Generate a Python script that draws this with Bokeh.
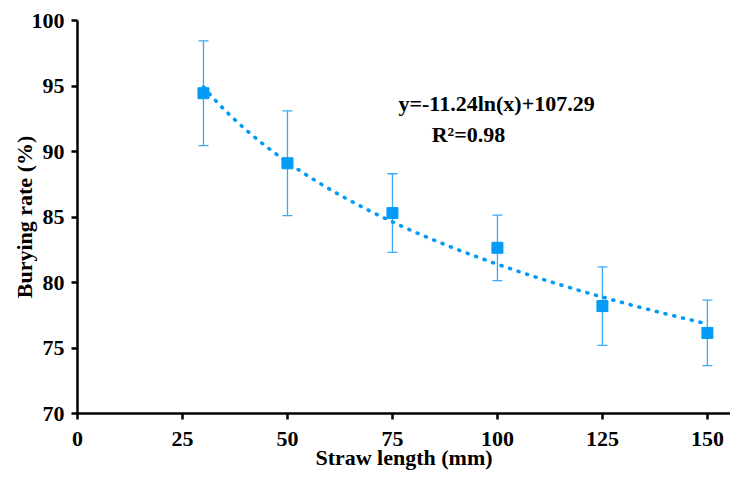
import numpy as np
from bokeh.plotting import figure
from bokeh.models import ColumnDataSource, Whisker, TeeHead, Label, FixedTicker, Range1d
from bokeh.embed import file_html
from bokeh.resources import INLINE

# Data
straw_length = [30, 50, 75, 100, 125, 150]
burying_rate = [94.45, 89.1, 85.3, 82.65, 78.2, 76.15]
error = [4.0, 4.0, 3.0, 2.5, 3.0, 2.5]
x_ticks = [0, 25, 50, 75, 100, 125, 150]
y_ticks = [70, 75, 80, 85, 90, 95, 100]
equation_text = "y=-11.24ln(x)+107.29"
r2_text = "R\u00b2=0.98"

FONT = "'Liberation Serif', 'Times New Roman', serif"
BLUE = "#049BF7"
ERR_BLUE = "#3AAAF5"

lower = [v - e for v, e in zip(burying_rate, error)]
upper = [v + e for v, e in zip(burying_rate, error)]
src = ColumnDataSource(dict(x=straw_length, y=burying_rate, lo=lower, hi=upper))

# logarithmic trendline fitted to the data
coef = np.polyfit(np.log(straw_length), burying_rate, 1)
tx = np.linspace(min(straw_length), max(straw_length), 200)
ty = coef[0] * np.log(tx) + coef[1]

p = figure(width=730, height=475, output_backend="svg", toolbar_location=None,
           x_range=Range1d(0, 155.5), y_range=Range1d(70, 100),
           min_border_left=77, min_border_right=0, min_border_top=20, min_border_bottom=62)
p.outline_line_color = None
p.xgrid.grid_line_color = None
p.ygrid.grid_line_color = None

p.line(tx, ty, line_color=BLUE, line_width=3.6, line_dash="1 8", line_cap="round")

w = Whisker(source=src, base="x", lower="lo", upper="hi", line_color=ERR_BLUE, line_width=1.3,
            upper_head=TeeHead(size=10, line_color=ERR_BLUE, line_width=1.3),
            lower_head=TeeHead(size=10, line_color=ERR_BLUE, line_width=1.3))
p.add_layout(w)

p.scatter("x", "y", source=src, marker="square", size=11, fill_color=BLUE, line_color=BLUE)

for ax in (p.xaxis, p.yaxis):
    ax.axis_line_width = 2.5
    ax.axis_line_color = "black"
    ax.major_tick_line_width = 2.5
    ax.major_tick_line_color = "black"
    ax.major_tick_out = 6
    ax.major_tick_in = 0
    ax.minor_tick_line_color = None
    ax.major_label_text_font = FONT
    ax.major_label_text_font_style = "bold"
    ax.major_label_text_font_size = "22px"
    ax.major_label_text_color = "black"
    ax.axis_label_text_font = FONT
    ax.axis_label_text_font_style = "bold"
    ax.axis_label_text_font_size = "22px"
    ax.axis_label_text_color = "black"

p.xaxis.ticker = FixedTicker(ticks=x_ticks)
p.yaxis.ticker = FixedTicker(ticks=y_ticks)
p.xaxis.axis_label = "Straw length (mm)"
p.yaxis.axis_label = "Burying rate (%)"
p.xaxis.major_label_standoff = 12
p.yaxis.major_label_standoff = 7
p.xaxis.axis_label_standoff = -4
p.yaxis.axis_label_standoff = -8

p.add_layout(Label(x=99.8, y=93.69, text=equation_text, text_align="center", text_baseline="alphabetic",
                   text_font=FONT, text_font_style="bold", text_font_size="22px", text_color="black"))
p.add_layout(Label(x=93.1, y=91.32, text=r2_text, text_align="center", text_baseline="alphabetic",
                   text_font=FONT, text_font_style="bold", text_font_size="22px", text_color="black"))

open("out.html", "w").write(file_html(p, INLINE))
